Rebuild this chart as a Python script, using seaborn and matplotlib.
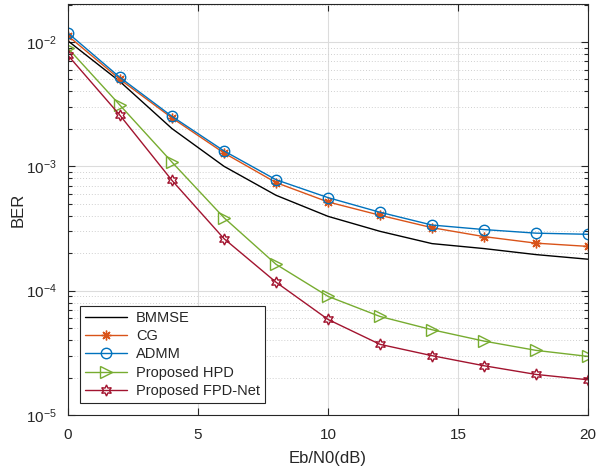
import numpy as np
import pandas as pd
import matplotlib
matplotlib.use('Agg')
import matplotlib.pyplot as plt
from matplotlib.ticker import LogLocator, NullFormatter
import seaborn as sns

snr = [0, 2, 4, 6, 8, 10, 12, 14, 16, 18, 20]

ber_bmmse = [0.0102, 0.0048, 0.00201, 0.00100, 0.000585, 0.000396, 0.000300, 0.000239, 0.000218, 0.000195, 0.000179]
ber_cg = [0.0112, 0.00500, 0.00245, 0.00128, 0.000740, 0.000517, 0.000404, 0.000321, 0.000272, 0.000241, 0.000227]
ber_admm = [0.0118, 0.00518, 0.00252, 0.00133, 0.000780, 0.000560, 0.000427, 0.000337, 0.000310, 0.000290, 0.000284]
ber_hpd = [0.0089, 0.0031, 0.00108, 0.000386, 0.000163, 9.0e-5, 6.2e-5, 4.85e-5, 3.93e-5, 3.31e-5, 2.96e-5]
ber_fpd = [0.0078, 0.00257, 0.00077, 0.000262, 0.000117, 5.87e-5, 3.7e-5, 3.0e-5, 2.49e-5, 2.12e-5, 1.92e-5]

labels = ['BMMSE', 'CG', 'ADMM', 'Proposed HPD', 'Proposed FPD-Net']

sns.set_style('ticks')
plt.rcParams['font.family'] = ['Liberation Sans', 'DejaVu Sans']

colors = ['black', '#D95319', '#0072BD', '#77AC30', '#A2142F']
markers = [None, (8, 2, 0), 'o', '>', (6, 1, 0)]
msizes = [0, 7, 7.5, 8, 8]

df = pd.DataFrame({
    'snr': snr * 5,
    'ber': ber_bmmse + ber_cg + ber_admm + ber_hpd + ber_fpd,
    'method': sum([[m] * len(snr) for m in labels], []),
})

fig = plt.figure(figsize=(5.98, 4.70), dpi=100)
ax = fig.add_axes([0.1137, 0.117, 0.8696, 0.8745])

for lab, c, mk, ms in zip(labels, colors, markers, msizes):
    d = df[df['method'] == lab]
    kw = dict(marker=mk, markersize=ms, markerfacecolor='none',
              markeredgecolor=c, markeredgewidth=1.0) if mk is not None else {}
    sns.lineplot(data=d, x='snr', y='ber', ax=ax, color=c, linewidth=1.0,
                 label=lab, **kw)

ax.set_yscale('log')
ax.set_xlim(0, 20)
ax.set_ylim(1e-5, 2.02e-2)
ax.set_xticks([0, 5, 10, 15, 20])
ax.yaxis.set_major_locator(LogLocator(base=10, numticks=10))
ax.yaxis.set_minor_locator(LogLocator(base=10, subs=np.arange(2, 10), numticks=20))
ax.yaxis.set_minor_formatter(NullFormatter())

ax.grid(True, which='major', color='#dcdcdc', linewidth=0.8, linestyle='-')
ax.grid(True, which='minor', axis='y', color='#d0d0d0', linewidth=0.7, linestyle=(0, (1, 2)))
ax.set_axisbelow(True)

ax.tick_params(which='both', direction='in', top=True, right=True,
               labelsize=11, colors='#262626', width=0.8)
ax.tick_params(which='major', length=5)
ax.tick_params(which='minor', length=3)
ax.tick_params(axis='x', pad=9)
ax.tick_params(axis='y', pad=8)
for sp in ax.spines.values():
    sp.set_color('#262626')
    sp.set_linewidth(0.8)

ax.set_xlabel('Eb/N0(dB)', fontsize=12, color='#262626', labelpad=7)
ax.set_ylabel('BER', fontsize=12, color='#262626', labelpad=0)

leg = ax.legend(loc='lower left', fontsize=10.5, frameon=True, fancybox=False,
                edgecolor='#262626', framealpha=1, borderaxespad=0.8,
                handlelength=2.9, labelspacing=0.3, borderpad=0.35,
                handletextpad=0.6)
leg.get_frame().set_linewidth(0.8)

fig.savefig('out.png', dpi=100)
